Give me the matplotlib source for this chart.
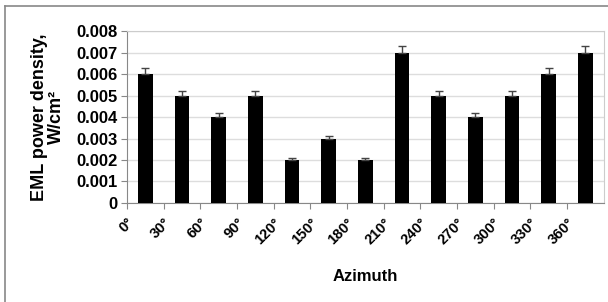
import matplotlib
matplotlib.use("Agg")
import matplotlib.pyplot as plt
from matplotlib.lines import Line2D
import numpy as np

categories = ["0°", "30°", "60°", "90°", "120°", "150°", "180°", "210°",
              "240°", "270°", "300°", "330°", "360°"]
values = [0.006, 0.005, 0.004, 0.005, 0.002, 0.003, 0.002, 0.007,
          0.005, 0.004, 0.005, 0.006, 0.007]
errors = [0.0003, 0.00022, 0.0002, 0.00022, 0.0001, 0.00012, 0.0001, 0.0003,
          0.00022, 0.0002, 0.00022, 0.00028, 0.0003]
yticks = [0, 0.001, 0.002, 0.003, 0.004, 0.005, 0.006, 0.007, 0.008]
ytick_labels = ["0", "0.001", "0.002", "0.003", "0.004", "0.005", "0.006", "0.007", "0.008"]

plt.rcParams['font.family'] = ['Liberation Sans', 'DejaVu Sans']
plt.rcParams['font.weight'] = 'bold'

fig = plt.figure(figsize=(6.08, 3.02), dpi=100)
ax = fig.add_axes([0.209, 0.328, 0.784, 0.569])

x = np.arange(len(values))
ax.bar(x, values, width=0.4, color='black', zorder=3)
ax.errorbar(x, values, yerr=[np.zeros(len(errors)), errors], fmt='none',
            ecolor='#444444', elinewidth=1, capsize=3, capthick=1, zorder=4)

ax.set_xlim(-0.5, len(values) - 0.5)
ax.set_ylim(0, 0.008)
ax.set_yticks(yticks)
ax.set_yticklabels(ytick_labels, fontsize=12, fontweight='bold')
ax.yaxis.grid(True, color='#dddddd', linewidth=1, zorder=0)

ax.set_xticks(x - 0.5)
ax.set_xticklabels(categories, rotation=45, ha='right', rotation_mode='anchor',
                   fontsize=10.5, fontweight='bold')
ax.tick_params(axis='x', length=4, color='#888888', pad=5)
ax.tick_params(axis='y', length=4, color='#888888', pad=3)

for side in ['left', 'bottom']:
    ax.spines[side].set_color('#888888')
for side in ['top', 'right']:
    ax.spines[side].set_color('#cccccc')

ax.set_xlabel("Azimuth", fontsize=12, fontweight='bold', labelpad=16)
ax.set_ylabel("EML power density,\nW/cm²", fontsize=13, fontweight='bold',
              labelpad=8, linespacing=1.0)

fig.add_artist(Line2D([4.5/608, 4.5/608], [0, 1 - 6/302], transform=fig.transFigure,
                      color='#888888', linewidth=1.2))
fig.add_artist(Line2D([4.5/608, 1], [1 - 6/302, 1 - 6/302], transform=fig.transFigure,
                      color='#888888', linewidth=1.2))

fig.savefig("out.png", dpi=100)
